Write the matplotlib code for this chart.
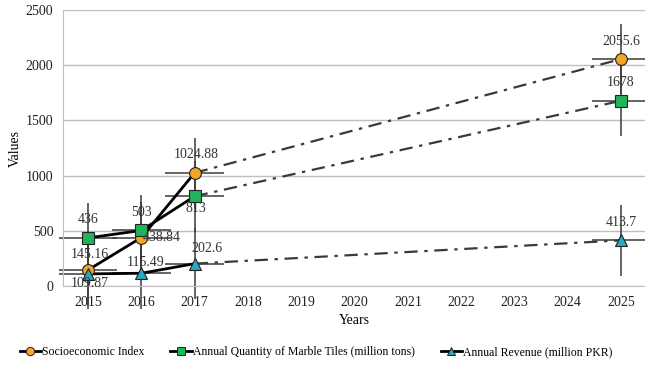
import matplotlib
matplotlib.use("Agg")
import matplotlib.pyplot as plt
from matplotlib.lines import Line2D

plt.rcParams['font.family'] = ['Liberation Serif', 'DejaVu Serif']

years = [2015, 2016, 2017, 2025]
socio = [145.16, 438.84, 1024.88, 2055.6]
marble = [436, 503, 813, 1678]
revenue = [109.87, 115.49, 202.6, 413.7]
series_names = ["Socioeconomic Index",
                "Annual Quantity of Marble Tiles (million tons)",
                "Annual Revenue (million PKR)"]
y_err = 320
x_err = 0.55
socio_lbl = ["145.16", "438.84", "1024.88", "2055.6"]
marble_lbl = ["436", "503", "813", "1678"]
revenue_lbl = ["109.87", "115.49", "202.6", "413.7"]

fig = plt.figure(figsize=(6.45, 3.65), dpi=100)
ax = fig.add_axes([0.0977, 0.2164, 0.9023, 0.7562])

colors = ['#F5A623', '#1FB45A', '#2AA8C4']
markers = ['o', 's', '^']
msizes = [8.5, 8.5, 8]
data = [socio, marble, revenue]

# error bars
for vals in data:
    eb = ax.errorbar(years, vals, xerr=x_err, yerr=y_err, fmt='none',
                     ecolor='#3a3a3a', elinewidth=1.1, capsize=0, zorder=2)
    for coll in eb[2]:
        coll.set_clip_on(False)

for vals, c, m, ms in zip(data, colors, markers, msizes):
    ax.plot(years[:3], vals[:3], color='black', lw=2, zorder=3)
    ax.plot(years[2:], vals[2:], color='#3a3a3a', lw=1.6,
            linestyle=(0, (6, 3, 1.5, 3)), zorder=3)
    ax.plot(years, vals, linestyle='none', marker=m, ms=ms,
            markerfacecolor=c, markeredgecolor='#222222', markeredgewidth=0.8, zorder=4)

fs = 10
def lab(x, y, t, dx, dy, ha='center'):
    ax.annotate(t, (x, y), xytext=(dx, dy), textcoords='offset points',
                ha=ha, va='center', fontsize=fs, color='#333333', zorder=5)

# socio labels
lab(2015, socio[0], socio_lbl[0], 1, 11)
lab(2016, socio[1], socio_lbl[1], 1, 0, ha='left')
lab(2017, socio[2], socio_lbl[2], 1, 13)
lab(2025, socio[3], socio_lbl[3], 0, 13)
# marble labels
lab(2015, marble[0], marble_lbl[0], 0, 13)
lab(2016, marble[1], marble_lbl[1], 0, 13)
lab(2017, marble[2], marble_lbl[2], 1, -9)
lab(2025, marble[3], marble_lbl[3], 0, 13)
# revenue labels
lab(2015, revenue[0], revenue_lbl[0], 1, -7)
lab(2016, revenue[1], revenue_lbl[1], 3, 8)
lab(2017, revenue[2], revenue_lbl[2], 9, 11)
lab(2025, revenue[3], revenue_lbl[3], 0, 13)

ax.set_xlim(2014.53, 2025.45)
ax.set_ylim(0, 2500)
ax.set_xticks(range(2015, 2026))
ax.set_yticks(range(0, 2501, 500))
ax.tick_params(length=0, labelsize=10, colors='#222222', pad=7)
ax.grid(axis='y', color='#bfbfbf', lw=1)
ax.set_axisbelow(True)
for s in ['top', 'right']:
    ax.spines[s].set_visible(False)
for s in ['left', 'bottom']:
    ax.spines[s].set_color('#bfbfbf')
ax.set_xlabel("Years", fontsize=10, labelpad=4)
ax.set_ylabel("Values", fontsize=10, labelpad=3)

handles = [Line2D([], [], color='black', lw=2, marker=m, ms=6, markerfacecolor=c,
                  markeredgecolor='#222222', markeredgewidth=0.7)
           for c, m in zip(colors, markers)]
fig.legend(handles, series_names, loc='center', bbox_to_anchor=(0.49, 0.035),
           ncol=3, frameon=False, fontsize=8.5, handlelength=1.8, handletextpad=0.1,
           columnspacing=2.2)

fig.savefig("out.png", dpi=100)
